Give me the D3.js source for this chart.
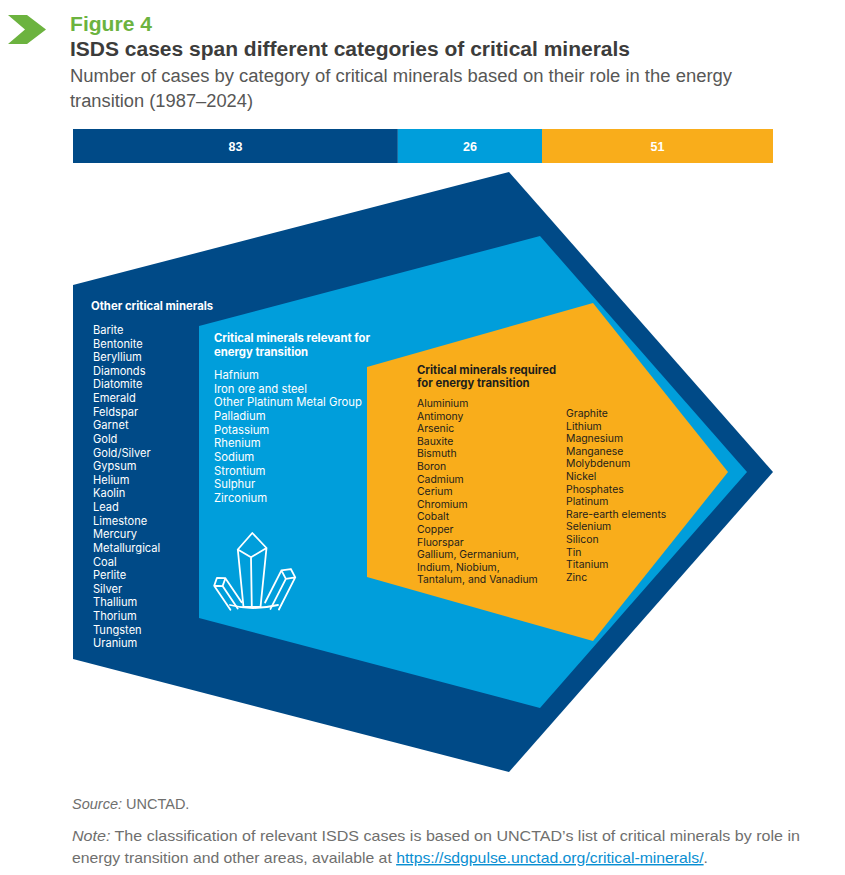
<!DOCTYPE html>
<html>
<head>
<meta charset="utf-8">
<script src="https://cdn.jsdelivr.net/npm/d3@7"></script>
<style>
  body { margin: 0; background: #fff; }
  svg { display: block; }
</style>
</head>
<body>
<div id="chart"></div>
<script>
// ---- data ----
const categories = [
  'Other critical minerals',
  'Critical minerals relevant for energy transition',
  'Critical minerals required for energy transition'
];
const caseCounts = [83, 26, 51];

// headings as shown in the figure (line breaks kept)
const headings = [
  ['Other critical minerals'],
  ['Critical minerals relevant for', 'energy transition'],
  ['Critical minerals required', 'for energy transition']
];

const otherMinerals = [
  'Barite', 'Bentonite', 'Beryllium', 'Diamonds', 'Diatomite', 'Emerald', 'Feldspar',
  'Garnet', 'Gold', 'Gold/Silver', 'Gypsum', 'Helium', 'Kaolin', 'Lead', 'Limestone',
  'Mercury', 'Metallurgical\nCoal', 'Perlite', 'Silver', 'Thallium', 'Thorium',
  'Tungsten', 'Uranium'
];
const relevantMinerals = [
  'Hafnium', 'Iron ore and steel', 'Other Platinum Metal Group', 'Palladium',
  'Potassium', 'Rhenium', 'Sodium', 'Strontium', 'Sulphur', 'Zirconium'
];
const requiredMinerals = [
  'Aluminium', 'Antimony', 'Arsenic', 'Bauxite', 'Bismuth', 'Boron', 'Cadmium',
  'Cerium', 'Chromium', 'Cobalt', 'Copper', 'Fluorspar',
  'Gallium, Germanium,\nIndium, Niobium,\nTantalum, and Vanadium',
  'Graphite', 'Lithium', 'Magnesium', 'Manganese', 'Molybdenum', 'Nickel',
  'Phosphates', 'Platinum', 'Rare-earth elements', 'Selenium', 'Silicon', 'Tin',
  'Titanium', 'Zinc'
];
const mineralLists = [otherMinerals, relevantMinerals, requiredMinerals];

// ---- styles / layout ----
const width = 845, height = 875;
const colors = ['#004a87', '#009edb', '#f9ad1b'];
const textColors = ['#ffffff', '#ffffff', '#1d1d1b'];
const listFont = 'Inter, "Noto Sans", sans-serif';
const headFont = '"Liberation Sans", Arial, sans-serif';

const bar = { x0: 73, x1: 773, y: 129, h: 34 };

// nested pentagons, all centred on the same horizontal axis
const centerY = 472;
const shapes = [
  { left: 73,  leftHalf: 187, topX: 509, topHalf: 300, tipX: 773 },
  { left: 199, leftHalf: 146, topX: 540, topHalf: 236, tipX: 747 },
  { left: 367, leftHalf: 105, topX: 593, topHalf: 169, tipX: 728 }
];
const textBlocks = [
  { hx: 91,  hy: 310, hstep: 14, x: 93,  y: 334, step: 13.62, size: 11.1, hsize: 11.3, cols: null },
  { hx: 214, hy: 342, hstep: 14, x: 214, y: 379, step: 13.66, size: 11.3, hsize: 11.3, cols: null },
  { hx: 417, hy: 374, hstep: 13, x: 417, y: 407, step: 12.6,  size: 10.4, hsize: 11.3, cols: { split: 13, x2: 566, y2: 417 } }
];

const svg = d3.select('#chart').append('svg')
  .attr('width', width).attr('height', height)
  .attr('viewBox', `0 0 ${width} ${height}`);

// ---- header ----
svg.append('path')
  .attr('d', 'M8,15 L27,15 L46,29.5 L27,44 L8,44 L25,29.5 Z')
  .attr('fill', '#6cb33f');

svg.append('text').attr('x', 70).attr('y', 31)
  .attr('font-family', headFont).attr('font-weight', 'bold').attr('font-size', 20)
  .attr('fill', '#6cb33f').attr('textLength', 82).attr('lengthAdjust', 'spacingAndGlyphs')
  .text('Figure 4');
svg.append('text').attr('x', 70).attr('y', 56)
  .attr('font-family', headFont).attr('font-weight', 'bold').attr('font-size', 20)
  .attr('fill', '#3c3c3b').attr('textLength', 560).attr('lengthAdjust', 'spacingAndGlyphs')
  .text('ISDS cases span different categories of critical minerals');
const subLines = [
  { t: 'Number of cases by category of critical minerals based on their role in the energy', w: 662 },
  { t: 'transition (1987\u20132024)', w: 183 }
];
svg.selectAll('text.sub').data(subLines).enter().append('text')
  .attr('class', 'sub')
  .attr('x', 70).attr('y', (d, i) => 82 + i * 25)
  .attr('font-family', headFont).attr('font-size', 18)
  .attr('fill', '#575756').attr('textLength', d => d.w).attr('lengthAdjust', 'spacingAndGlyphs')
  .text(d => d.t);

// ---- stacked bar ----
// segment widths follow a softened (power 0.7) scale of the case counts, as in the figure
const soften = d3.scalePow().exponent(0.7).domain([0, 1]).range([0, 1]);
const weights = caseCounts.map(v => soften(v));
const ends = Array.from(d3.cumsum(weights));
const starts = [0, ...ends.slice(0, -1)];
const x = d3.scaleLinear().domain([0, d3.sum(weights)]).range([bar.x0, bar.x1]);

const segs = svg.append('g').selectAll('g').data(caseCounts).enter().append('g');
segs.append('rect')
  .attr('x', (d, i) => x(starts[i]))
  .attr('width', (d, i) => x(ends[i]) - x(starts[i]))
  .attr('y', bar.y).attr('height', bar.h)
  .attr('fill', (d, i) => colors[i]);
segs.append('text')
  .attr('x', (d, i) => (x(starts[i]) + x(ends[i])) / 2)
  .attr('y', bar.y + bar.h / 2 + 4.5)
  .attr('text-anchor', 'middle')
  .attr('font-family', headFont).attr('font-weight', 'bold').attr('font-size', 12.5)
  .attr('fill', '#fff')
  .text(d => d);

// ---- nested pentagons ----
const line = d3.line();
function pentagon(s) {
  return [
    [s.left, centerY - s.leftHalf],
    [s.topX, centerY - s.topHalf],
    [s.tipX, centerY],
    [s.topX, centerY + s.topHalf],
    [s.left, centerY + s.leftHalf]
  ];
}
svg.append('g').selectAll('path').data(shapes).enter().append('path')
  .attr('d', d => line(pentagon(d)) + 'Z')
  .attr('fill', (d, i) => colors[i]);

// ---- category labels and mineral lists ----
textBlocks.forEach((b, i) => {
  const g = svg.append('g').attr('fill', textColors[i]).attr('font-family', listFont);
  g.selectAll('text.head').data(headings[i]).enter().append('text')
    .attr('class', 'head')
    .attr('x', b.hx).attr('y', (d, k) => b.hy + k * b.hstep)
    .attr('font-weight', 700).attr('font-size', b.hsize)
    .text(d => d);

  // expand wrapped items to display lines, then place in one or two columns
  const items = mineralLists[i];
  const cols = b.cols ? [items.slice(0, b.cols.split), items.slice(b.cols.split)] : [items];
  cols.forEach((col, c) => {
    const lines = col.flatMap(s => s.split('\n'));
    const cx = c === 0 ? b.x : b.cols.x2;
    const cy = c === 0 ? b.y : b.cols.y2;
    g.selectAll(`text.item${c}`).data(lines).enter().append('text')
      .attr('class', `item${c}`)
      .attr('x', cx).attr('y', (d, k) => cy + k * b.step)
      .attr('font-size', b.size)
      .text(d => d);
  });
});

// ---- crystal icon ----
const icon = svg.append('g')
  .attr('fill', 'none').attr('stroke', '#fff').attr('stroke-width', 1.8)
  .attr('stroke-linejoin', 'round').attr('stroke-linecap', 'round');
// central crystal
icon.append('path').attr('d',
  'M252.3,533 L266.5,548 L260.5,607 L243.5,607 L237.8,549.5 Z' +
  'M237.8,549.5 L251,557.3 L266.5,548 M251,557.3 L251.8,607');
// tilted side crystals: hexagonal prism seen from the side
function prism(cx, cy, ang, len, w, cap) {
  const r = ang * Math.PI / 180;
  const ux = Math.sin(r), uy = -Math.cos(r);
  const px = Math.cos(r), py = Math.sin(r);
  const P = (a, b) => [cx + ux * a + px * b, cy + uy * a + py * b];
  const bl = P(0, -w / 2), br = P(0, w / 2), bm = P(-cap * 0.6, 0);
  const tl = P(len, -w / 2), tr = P(len, w / 2);
  const tf = P(len + cap, 0), tn = P(len - cap, 0);
  return line([bl, tl, tf, tr, br]) +
    line([tl, tn, tr]) + line([tn, bm]);
}
icon.append('path').attr('d', prism(236, 606, -34, 29, 13.5, 5));
icon.append('path').attr('d', prism(272, 606, 27, 36, 15.5, 5.5));
icon.append('path').attr('d', 'M230,605 Q252,611 278,605');

// ---- footer ----
const foot = svg.append('g').attr('font-family', headFont).attr('font-size', 14.5).attr('fill', '#6f6f6e');
const src = foot.append('text').attr('x', 72).attr('y', 809);
src.append('tspan').attr('font-style', 'italic').text('Source:');
src.append('tspan').text(' UNCTAD.');
const n1 = foot.append('text').attr('x', 72).attr('y', 841)
  .attr('textLength', 728).attr('lengthAdjust', 'spacingAndGlyphs');
n1.append('tspan').attr('font-style', 'italic').text('Note:');
n1.append('tspan').text(' The classification of relevant ISDS cases is based on UNCTAD\u2019s list of critical minerals by role in');
const n2 = foot.append('text').attr('x', 72).attr('y', 863)
  .attr('textLength', 636).attr('lengthAdjust', 'spacingAndGlyphs');
n2.append('tspan').text('energy transition and other areas, available at ');
n2.append('tspan').attr('fill', '#0a8fd2').attr('text-decoration', 'underline')
  .text('https://sdgpulse.unctad.org/critical-minerals/');
n2.append('tspan').text('.');
</script>
</body>
</html>
